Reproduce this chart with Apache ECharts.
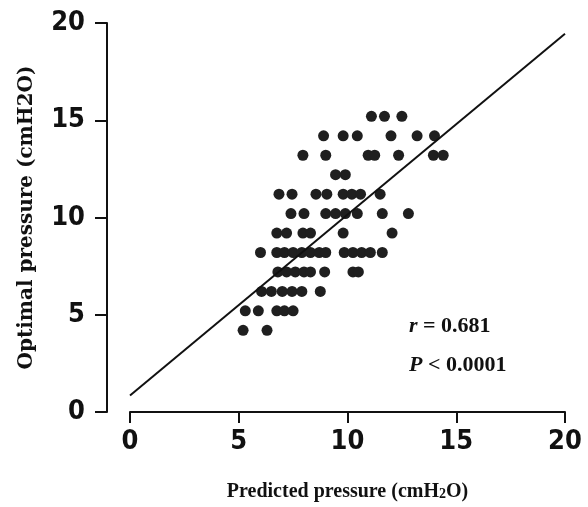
<!DOCTYPE html>
<html>
<head>
<meta charset="utf-8">
<script src="https://cdn.jsdelivr.net/npm/echarts@6/dist/echarts.min.js"></script>
<style>html,body{margin:0;padding:0;background:#fff;}#c{width:588px;height:507px;}</style>
</head>
<body>
<div id="c"></div>
<script>
// Optimal pressure levels (rows) and predicted pressures for each row
const rowLevels = [15.2, 14.2, 13.2, 12.2, 11.2, 10.2, 9.2, 8.2, 7.2, 6.2, 5.2, 4.2];
const row15 = [11.1, 11.7, 12.5];
const row14 = [8.9, 9.8, 10.45, 12.0, 13.2, 14.0];
const row13 = [7.95, 9.0, 10.95, 11.25, 12.35, 13.95, 14.4];
const row12 = [9.45, 9.9];
const row11 = [6.85, 7.45, 8.55, 9.05, 9.8, 10.2, 10.6, 11.5];
const row10 = [7.4, 8.0, 9.0, 9.45, 9.9, 10.45, 11.6, 12.8];
const row9  = [6.75, 7.2, 7.95, 8.3, 9.8, 12.05];
const row8  = [6.0, 6.75, 7.1, 7.5, 7.9, 8.3, 8.7, 9.0, 9.85, 10.25, 10.65, 11.05, 11.6];
const row7  = [6.8, 7.2, 7.6, 8.0, 8.3, 8.95, 10.25, 10.5];
const row6  = [6.05, 6.5, 7.0, 7.45, 7.9, 8.75];
const row5  = [5.3, 5.9, 6.75, 7.1, 7.5];
const row4  = [5.2, 6.3];
const rows = [row15, row14, row13, row12, row11, row10, row9, row8, row7, row6, row5, row4];

// Regression line endpoints (predicted, optimal)
const fitX = [0, 20];
const fitY = [0.85, 19.45];

const xTicks = [0, 5, 10, 15, 20];
const yTicks = [0, 5, 10, 15, 20];
const stats = ['0.681', '0.0001'];

const points = [];
rows.forEach((r, i) => r.forEach(x => points.push([x, rowLevels[i]])));
const fitData = fitX.map((x, i) => [x, fitY[i]]);

const tickFont = '"DejaVu Sans Condensed", "Liberation Sans Narrow", "Liberation Sans", Arial, sans-serif';
const serif = '"Liberation Serif", "Times New Roman", serif';
const wideSerif = '"DejaVu Serif", "Liberation Serif", serif';

const chart = echarts.init(document.getElementById('c'), null, {renderer: 'canvas'});
chart.setOption({
  animation: false,
  backgroundColor: '#fff',
  grid: {left: 130, right: 23, top: 23, bottom: 90},
  xAxis: {
    type: 'value', min: 0, max: 20, interval: 5,
    axisLine: {show: true, onZero: false, lineStyle: {color: '#111', width: 2}},
    axisTick: {show: true, length: 11, lineStyle: {color: '#111', width: 2}},
    splitLine: {show: false},
    axisLabel: {fontSize: 27, fontWeight: 'bold', color: '#111', fontFamily: tickFont, margin: 16,
      formatter: v => xTicks.includes(v) ? String(v) : ''},
    name: '{a|Predicted pressure (cmH}{s|2}{a|O)}',
    nameLocation: 'middle', nameGap: 70,
    nameTextStyle: {rich: {
      a: {fontSize: 20, fontWeight: 'bold', fontFamily: serif, color: '#111'},
      s: {fontSize: 14, fontWeight: 'bold', fontFamily: serif, color: '#111', padding: [4, 0, 0, 0]}
    }}
  },
  yAxis: {
    type: 'value', min: 0, max: 20, interval: 5, offset: 23,
    axisLine: {show: true, onZero: false, lineStyle: {color: '#111', width: 2}},
    axisTick: {show: true, length: 12, lineStyle: {color: '#111', width: 2}},
    splitLine: {show: false},
    axisLabel: {fontSize: 27, fontWeight: 'bold', color: '#111', fontFamily: tickFont, margin: 22,
      formatter: v => yTicks.includes(v) ? String(v) : ''},
    name: 'Optimal pressure (cmH2O)',
    nameLocation: 'middle', nameGap: 70, nameRotate: 90,
    nameTextStyle: {fontSize: 20, fontWeight: 'bold', fontFamily: wideSerif, color: '#111'}
  },
  series: [
    {
      type: 'scatter', data: points, symbolSize: 11,
      itemStyle: {color: '#1f1f1f', opacity: 1}
    },
    {
      type: 'line', data: fitData, symbol: 'none', silent: true,
      lineStyle: {color: '#111', width: 2}
    }
  ],
  graphic: [
    {type: 'text', left: 409, top: 315, style: {
      text: '{i|r}{b| = ' + stats[0] + '}',
      rich: {
        i: {fontSize: 22, fontWeight: 'bold', fontStyle: 'italic', fontFamily: serif, fill: '#111'},
        b: {fontSize: 22, fontWeight: 'bold', fontFamily: serif, fill: '#111'}
      }}},
    {type: 'text', left: 409, top: 354, style: {
      text: '{i|P}{b| < ' + stats[1] + '}',
      rich: {
        i: {fontSize: 22, fontWeight: 'bold', fontStyle: 'italic', fontFamily: serif, fill: '#111'},
        b: {fontSize: 22, fontWeight: 'bold', fontFamily: serif, fill: '#111'}
      }}}
  ]
});
</script>
</body>
</html>
